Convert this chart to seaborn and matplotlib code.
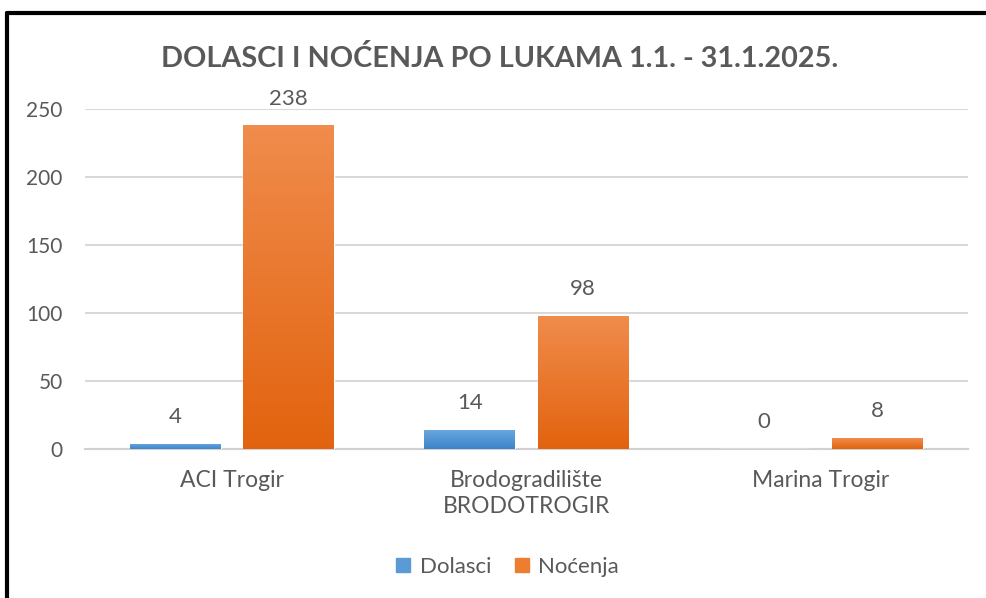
import numpy as np
import pandas as pd
import matplotlib
matplotlib.use("Agg")
import matplotlib.pyplot as plt
from matplotlib.lines import Line2D
import seaborn as sns

# data
categories = ["ACI Trogir", "Brodogradilište\nBRODOTROGIR", "Marina Trogir"]
series = ["Dolasci", "Noćenja"]
dolasci = [4, 14, 0]
nocenja = [238, 98, 8]
yticks = [0, 50, 100, 150, 200, 250]

df = pd.DataFrame({
    "luka": categories * 2,
    "serija": [series[0]] * 3 + [series[1]] * 3,
    "vrijednost": dolasci + nocenja,
})

sns.set_style("white")
plt.rcParams["font.family"] = ["Lato", "DejaVu Sans"]

gray = "#595959"
blue = "#5B9BD5"
orange = "#ED7D31"
# top / bottom colours of the gradient fill, per series
grads = [("#6AA8DF", "#3D84CA"), ("#F08C4C", "#E2630F")]

fig = plt.figure(figsize=(9.86, 5.98), dpi=100)
ax = fig.add_axes([0.0862, 0.2492, 0.8955, 0.5686])

sns.barplot(data=df, x="luka", y="vrijednost", hue="serija",
            palette=[blue, orange], saturation=1, width=0.77, gap=0.2, ax=ax,
            legend=False, zorder=3)

# gradient fill on each bar
for cont, (top, bot) in zip(ax.containers, grads):
    cmap = matplotlib.colors.LinearSegmentedColormap.from_list("g", [bot, top])
    for patch in cont.patches:
        x0, y0 = patch.get_x(), patch.get_y()
        w, h = patch.get_width(), patch.get_height()
        if h <= 0:
            continue
        img = ax.imshow(np.linspace(0, 1, 100).reshape(-1, 1), cmap=cmap,
                        extent=[x0, x0 + w, y0, y0 + h], origin="lower",
                        aspect="auto", zorder=3.5)
        img.set_clip_path(patch)

for cont in ax.containers:
    ax.bar_label(cont, padding=12, fontsize=16, color=gray)

ax.set_xlim(-0.5, 2.5)
ax.set_ylim(0, 250)
ax.set_yticks(yticks)
ax.set_xlabel("")
ax.set_ylabel("")
ax.grid(axis="y", color="#D9D9D9", linewidth=1.5, zorder=0)
for s in ["top", "right", "left"]:
    ax.spines[s].set_visible(False)
ax.spines["bottom"].set_color("#D0D0D0")
ax.spines["bottom"].set_linewidth(1.5)
ax.tick_params(axis="y", length=0, labelsize=15, labelcolor=gray, pad=16)
ax.tick_params(axis="x", length=0, labelsize=16.5, labelcolor=gray, pad=15)
for lbl in ax.get_xticklabels():
    lbl.set_linespacing(1.3)

fig.suptitle("DOLASCI I NOĆENJA PO LUKAMA 1.1. - 31.1.2025.", x=0.507, y=0.925,
             fontsize=20.7, fontweight="bold", color=gray)

handles = [Line2D([], [], marker="s", linestyle="", markersize=10,
                  markerfacecolor=c, markeredgecolor=c) for c in [blue, orange]]
fig.legend(handles, series, loc="center", bbox_to_anchor=(0.514, 0.052),
           ncol=2, frameon=False, fontsize=16, labelcolor=gray,
           handlelength=0.8, handletextpad=0.35, columnspacing=0.95)

# outer frame (top and left visible)
fig.add_artist(Line2D([0.007, 1.0], [0.979, 0.979], color="black", linewidth=3,
                      transform=fig.transFigure))
fig.add_artist(Line2D([0.0075, 0.0075], [0.0, 0.979], color="black", linewidth=3,
                      transform=fig.transFigure))

fig.savefig("out.png", dpi=100, facecolor="white")
